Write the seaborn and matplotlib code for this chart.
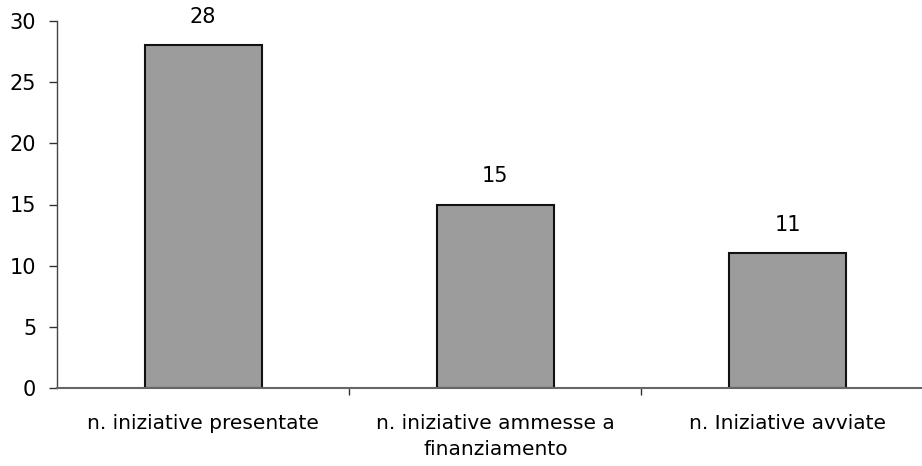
import matplotlib
matplotlib.use("Agg")
import matplotlib.pyplot as plt
import seaborn as sns
import pandas as pd

# -------------------------------
# Data
# -------------------------------
categories = ["n. iniziative presentate",
              "n. iniziative ammesse a\nfinanziamento",
              "n. Iniziative avviate"]
values = [28, 15, 11]
yticks = [0, 5, 10, 15, 20, 25, 30]

df = pd.DataFrame({"categoria": categories, "valore": values})

sns.set_theme(style="white")
plt.rcParams["font.family"] = ["DejaVu Sans"]

fig = plt.figure(figsize=(9.22, 4.66), dpi=100)
ax = fig.add_axes([57 / 922, 1 - 388 / 466, 1 - 57 / 922, 367 / 466])

sns.barplot(data=df, x="categoria", y="valore", color="#9c9c9c",
            edgecolor="#111111", linewidth=1.5, width=0.40, saturation=1, ax=ax)

# value labels above the bars
for i, v in enumerate(values):
    ax.text(i, v + 2.3, str(v), ha="center", va="center", fontsize=15, color="black")

ax.set_ylim(0, 30)
ax.set_xlim(-0.5, 2.46)
ax.set_yticks(yticks)
ax.set_xlabel("")
ax.set_ylabel("")
ax.set_xticks([0, 1, 2])
ax.set_xticklabels(categories, fontsize=14.5, color="black", linespacing=1.45)
ax.tick_params(axis="x", length=0, pad=19)
ax.set_xticks([0.5, 1.5], minor=True)
ax.tick_params(axis="x", which="minor", length=5, width=1, color="#333333", direction="out", bottom=True)
ax.tick_params(axis="y", labelsize=15, length=6, width=1, color="#333333", direction="out", left=True, pad=9, labelcolor="black")

for s in ["top", "right"]:
    ax.spines[s].set_visible(False)
ax.spines["left"].set_color("#444444")
ax.spines["bottom"].set_color("#666666")
ax.spines["left"].set_linewidth(1)
ax.spines["bottom"].set_linewidth(1.5)

fig.savefig("out.png", dpi=100)
